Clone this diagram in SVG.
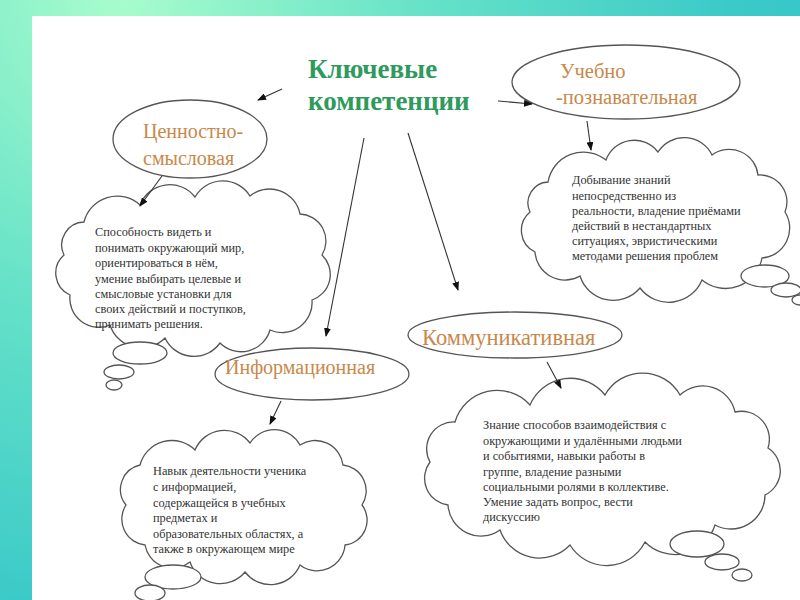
<svg xmlns="http://www.w3.org/2000/svg" width="800" height="600" viewBox="0 0 800 600">
<defs>
<radialGradient id="bg" gradientUnits="userSpaceOnUse" cx="120" cy="0" r="760">
<stop offset="0" stop-color="#a8fccc"/>
<stop offset="0.4" stop-color="#66e2c8"/>
<stop offset="0.8" stop-color="#3ccac8"/>
<stop offset="1" stop-color="#34c4c8"/>
</radialGradient>
<marker id="ah" markerUnits="userSpaceOnUse" markerWidth="9" markerHeight="7" refX="8" refY="3.5" orient="auto">
<path d="M0,0 L9,3.5 L0,7 z" fill="#111"/>
</marker>
<style>
.ln{fill:none;stroke:#555;stroke-width:1.3}
.cl{fill:#fff;stroke:#555;stroke-width:1.3}
.ar{fill:none;stroke:#333;stroke-width:1.1;marker-end:url(#ah)}
.ttl{font-family:"Liberation Serif",serif;font-weight:bold;font-size:27px;fill:#2e9a5c}
.lbl{font-family:"Liberation Serif",serif;font-size:20px;fill:#c8884a}
.tx{font-family:"Liberation Serif",serif;font-size:12.3px;fill:#333}
</style>
</defs>
<rect x="0" y="0" width="800" height="600" fill="url(#bg)"/>
<rect x="32" y="16" width="768" height="584" fill="#fff"/>

<g id="title">
<text class="ttl" x="308" y="78">Ключевые</text>
<text class="ttl" x="308" y="110">компетенции</text>
</g>

<g id="node-cennostno">
<ellipse class="ln" cx="190" cy="139" rx="77" ry="39"/>
<text class="lbl" x="143" y="138">Ценностно-</text>
<text class="lbl" x="143" y="165">смысловая</text>
</g>

<g id="node-uchebno">
<ellipse class="ln" cx="626" cy="82" rx="114" ry="37"/>
<text class="lbl" x="560" y="78" style="font-size:20.5px">Учебно</text>
<text class="lbl" x="556" y="104" style="font-size:20.5px">-познавательная</text>
</g>

<g id="node-inform">
<ellipse class="ln" cx="312" cy="374" rx="97" ry="26"/>
<text class="lbl" x="225" y="374">Информационная</text>
</g>

<g id="node-kommun">
<ellipse class="ln" cx="515" cy="335" rx="107" ry="23"/>
<text class="lbl" x="422" y="345" style="font-size:22.5px">Коммуникативная</text>
</g>

<g id="cloud-uchebno">
<path class="cl" d="M548,182 A36,36 0 0 1 606,160 A30,30 0 0 1 658,152 A31,31 0 0 1 712,155 A29,29 0 0 1 758,175 A27,27 0 0 1 785,212 A30,30 0 0 1 762,258 A37,37 0 0 1 702,280 A36,36 0 0 1 640,288 A35,35 0 0 1 580,276 A30,30 0 0 1 535,252 A24,24 0 0 1 530,212 A21,21 0 0 1 548,182 Z"/>
<ellipse class="cl" cx="765" cy="276" rx="24" ry="11"/>
<ellipse class="cl" cx="786" cy="290" rx="15" ry="7"/>
<ellipse class="cl" cx="800" cy="300" rx="8" ry="5"/>
<text class="tx" x="572" y="184">Добывание знаний</text>
<text class="tx" x="572" y="200">непосредственно из</text>
<text class="tx" x="572" y="215">реальности, владение приёмами</text>
<text class="tx" x="572" y="230">действий в нестандартных</text>
<text class="tx" x="572" y="245">ситуациях, эвристическими</text>
<text class="tx" x="572" y="260">методами решения проблем</text>
</g>

<g id="cloud-cennostno">
<path class="cl" d="M84,222 A34,34 0 0 1 140,205 A32,32 0 0 1 195,197 A32,32 0 0 1 250,196 A31,31 0 0 1 300,214 A27,27 0 0 1 322,255 A27,27 0 0 1 312,300 A30,30 0 0 1 270,330 A30,30 0 0 1 220,343 A32,32 0 0 1 165,338 A33,33 0 0 1 110,325 A29,29 0 0 1 70,295 A24,24 0 0 1 64,255 A23,23 0 0 1 84,222 Z"/>
<ellipse class="cl" cx="140" cy="353" rx="27" ry="11"/>
<ellipse class="cl" cx="119" cy="372" rx="15" ry="7"/>
<ellipse class="cl" cx="114" cy="385" rx="8" ry="5"/>
<text class="tx" x="95" y="236">Способность видеть и</text>
<text class="tx" x="95" y="252">понимать окружающий мир,</text>
<text class="tx" x="95" y="267">ориентироваться в нём,</text>
<text class="tx" x="95" y="283">умение выбирать целевые и</text>
<text class="tx" x="95" y="298">смысловые установки для</text>
<text class="tx" x="95" y="313">своих действий и поступков,</text>
<text class="tx" x="95" y="328">принимать решения.</text>
</g>

<g id="cloud-inform">
<path class="cl" d="M140,465 A33,33 0 0 1 195,450 A32,32 0 0 1 250,443 A29,29 0 0 1 300,445 A28,28 0 0 1 343,465 A26,26 0 0 1 362,505 A25,25 0 0 1 345,545 A28,28 0 0 1 300,565 A32,32 0 0 1 245,572 A32,32 0 0 1 190,562 A28,28 0 0 1 145,545 A26,26 0 0 1 126,505 A25,25 0 0 1 140,465 Z"/>
<ellipse class="cl" cx="173" cy="577" rx="28" ry="12"/>
<ellipse class="cl" cx="150" cy="593" rx="15" ry="8"/>
<text class="tx" x="153" y="475">Навык деятельности ученика</text>
<text class="tx" x="153" y="491">с информацией,</text>
<text class="tx" x="153" y="507">содержащейся в учебных</text>
<text class="tx" x="153" y="522">предметах и</text>
<text class="tx" x="153" y="538">образовательных областях, а</text>
<text class="tx" x="153" y="553">также  в окружающем мире</text>
</g>

<g id="cloud-kommun">
<path class="cl" d="M455,422 A44,44 0 0 1 530,405 A44,44 0 0 1 605,395 A43,43 0 0 1 680,395 A33,33 0 0 1 735,412 A28,28 0 0 1 768,448 A27,27 0 0 1 765,495 A34,34 0 0 1 715,525 A42,42 0 0 1 645,542 A43,43 0 0 1 570,545 A42,42 0 0 1 500,530 A33,33 0 0 1 448,505 A27,27 0 0 1 430,462 A27,27 0 0 1 455,422 Z"/>
<ellipse class="cl" cx="697" cy="544" rx="27" ry="13"/>
<ellipse class="cl" cx="722" cy="562" rx="17" ry="8"/>
<ellipse class="cl" cx="742" cy="575" rx="10" ry="6"/>
<text class="tx" x="483" y="429">Знание способов взаимодействия с</text>
<text class="tx" x="483" y="445">окружающими и удалёнными людьми</text>
<text class="tx" x="483" y="460">и событиями, навыки работы в</text>
<text class="tx" x="483" y="476">группе, владение разными</text>
<text class="tx" x="483" y="491">социальными ролями в коллективе.</text>
<text class="tx" x="483" y="506">Умение задать вопрос, вести</text>
<text class="tx" x="483" y="521">дискуссию</text>
</g>

<g id="connectors">
<line class="ar" x1="282" y1="89" x2="258" y2="100"/>
<line class="ar" x1="498" y1="101" x2="532" y2="104"/>
<line class="ar" x1="587" y1="121" x2="591" y2="150"/>
<line class="ar" x1="162" y1="176" x2="140" y2="206"/>
<line class="ar" x1="364" y1="138" x2="326" y2="336"/>
<line class="ar" x1="408" y1="133" x2="458" y2="290"/>
<line class="ar" x1="281" y1="401" x2="270" y2="424"/>
<line class="ar" x1="547" y1="362" x2="561" y2="388"/>
</g>
</svg>
